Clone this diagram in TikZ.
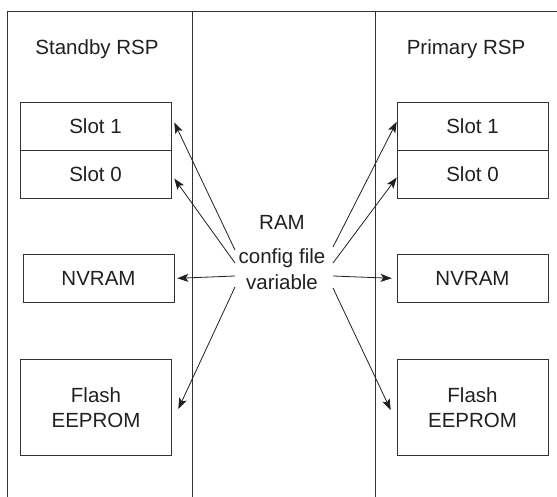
\documentclass[tikz,border=0pt]{standalone}
\usepackage{fontspec}
\setmainfont{Liberation Sans}
\usepackage{tikz}
\usetikzlibrary{arrows.meta}
\usetikzlibrary{calc}
\usetikzlibrary{positioning}
\usepackage{xcolor}
\definecolor{darkline}{RGB}{50,50,50}
\definecolor{darktext}{RGB}{35,31,32}
\newcommand{\widthbox}{151pt}
\newcommand{\heightslot}{48pt}
\newcommand{\sizetext}{\fontsize{20.5}{25}\selectfont}
\tikzset{
    common/.style={draw=darkline, line width=0.6pt, rectangle, inner sep=0pt, align=center, text=darktext, font=\sizetext},
    slot/.style={common, minimum width=\widthbox, minimum height=\heightslot},
    flash/.style={common, minimum width=\widthbox, minimum height=96pt},
    title/.style={text=darktext, inner sep=0pt, font=\sizetext},
    ramtext/.style={align=center, text=darktext, inner sep=0pt, font=\fontsize{20.5}{26}\selectfont},
    border/.style={draw=darkline, line width=0.6pt},
    copy/.style={draw=darktext, line width=0.8pt, -{Stealth[length=11pt, width=8pt, inset=2.5pt]}},
}

\begin{document}
\begin{tikzpicture}[x=1pt, y=-1pt]
    \useasboundingbox (0,0) rectangle (557,497);
    % frame of the two RSPs
    \draw[border] (7.5,497) -- (7.5,11.5) -- (557,11.5);
    \draw[border] (192.5,11.5) -- (192.5,497);
    \draw[border] (375.5,11.5) -- (375.5,497);
    % standby side
    \node[title] (standby) at (97,49) {Standby RSP};
    \node[slot] (slot1l) at (95.5,126) {Slot 1};
    \node[slot, below=0pt of slot1l] (slot0l) {Slot 0};
    \node[slot] (nvraml) at (98.5,278.3) {NVRAM};
    \node[flash] (flashl) at (96,407.7) {Flash\\EEPROM};
    % primary side
    \node[title] (primary) at (466,49) {Primary RSP};
    \node[slot] (slot1r) at (472.5,126) {Slot 1};
    \node[slot, below=0pt of slot1r] (slot0r) {Slot 0};
    \node[slot] (nvramr) at (472.5,278.3) {NVRAM};
    \node[flash] (flashr) at (472.5,407.7) {Flash\\EEPROM};
    % RAM in the middle
    \node[title] (ram) at (282,222.5) {RAM};
    \node[ramtext] (cfg) at (282,269.5) {config file\\variable};
    % copies to the standby side
    \draw[copy] ($(cfg.west)+(-3.5,-19.5)$) -- ($(slot1l.east)+(3,-3.5)$);
    \draw[copy] ($(cfg.west)+(-3.5,-6.5)$) -- ($(slot0l.east)+(3,4)$);
    \draw[copy] ($(cfg.west)+(-3.5,6.5)$) -- ($(nvraml.east)+(3,0)$);
    \draw[copy] ($(cfg.west)+(-3.5,17.5)$) -- ($(flashl.east)+(6.5,1.3)$);
    % copies to the primary side
    \draw[copy] ($(cfg.east)+(7.5,-22.5)$) -- ($(slot1r.west)+(0,-4.3)$);
    \draw[copy] ($(cfg.east)+(7.5,-6.5)$) -- ($(slot0r.west)+(0,3)$);
    \draw[copy] ($(cfg.east)+(7.5,6.5)$) -- ($(nvramr.west)+(-5,0)$);
    \draw[copy] ($(cfg.east)+(7.5,18.5)$) -- ($(flashr.west)+(-6,2.3)$);
\end{tikzpicture}
\end{document}
